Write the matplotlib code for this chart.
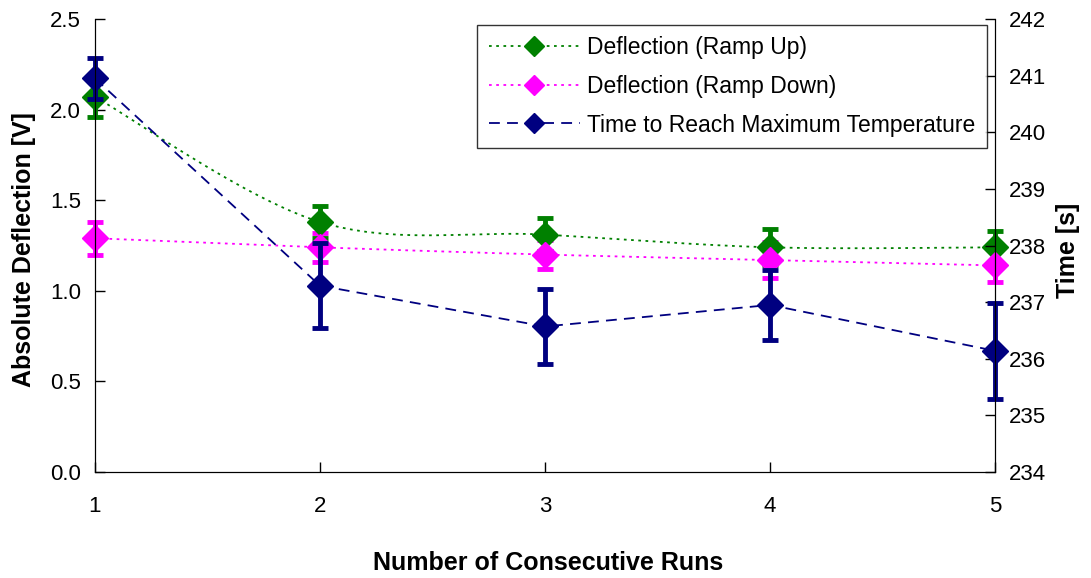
import matplotlib

matplotlib.use("Agg")

import matplotlib.pyplot as plt
import numpy as np

plt.rcParams["font.family"] = ["Liberation Sans", "DejaVu Sans"]

runs = [1, 2, 3, 4, 5]
ramp_up = [2.07, 1.38, 1.31, 1.24, 1.24]
ramp_up_err = [0.11, 0.09, 0.09, 0.10, 0.09]
ramp_down = [1.29, 1.24, 1.20, 1.17, 1.14]
ramp_down_err = [0.09, 0.08, 0.08, 0.10, 0.09]
time_max = [240.95, 237.29, 236.57, 236.95, 236.14]
time_max_err = [0.36, 0.75, 0.66, 0.62, 0.85]

x_ticks = [1, 2, 3, 4, 5]
left_ticks = [0.0, 0.5, 1.0, 1.5, 2.0, 2.5]
right_ticks = [234, 235, 236, 237, 238, 239, 240, 241, 242]


def smooth(x, y, n=40):
    # excel style smoothed line: bezier with catmull-rom control points
    x = np.asarray(x, float)
    y = np.asarray(y, float)
    pts = np.column_stack([x, y])
    padded = np.vstack([pts[0], pts, pts[-1]])
    out = []
    t = np.linspace(0, 1, n)[:, None]
    for i in range(len(pts) - 1):
        p0, p1, p2, p3 = padded[i], padded[i + 1], padded[i + 2], padded[i + 3]
        c1 = p1 + (p2 - p0) / 6
        c2 = p2 - (p3 - p1) / 6
        seg = ((1 - t) ** 3) * p1 + 3 * ((1 - t) ** 2) * t * c1 + 3 * (1 - t) * t ** 2 * c2 + t ** 3 * p2
        out.append(seg)
    out = np.vstack(out)
    return out[:, 0], out[:, 1]


fig = plt.figure(figsize=(10.91, 5.78), dpi=100)
ax = fig.add_axes([95 / 1091, 1 - 472 / 578, 900 / 1091, 453 / 578])
ax2 = ax.twinx()

green = "#008000"
magenta = "#ff00ff"
navy = "#000080"
dots = (0, (1.5, 2.5))
dashes = (0, (6, 4))
err_kw = dict(elinewidth=3.5, capsize=6, capthick=3.5, ls="none", marker="D", ms=13, clip_on=False)

sx, sy = smooth(runs, ramp_up)
ax.plot(sx, sy, color=green, ls=dots, lw=1.3)
ax.errorbar(runs, ramp_up, yerr=ramp_up_err, color=green, **err_kw)
sx, sy = smooth(runs, ramp_down)
ax.plot(sx, sy, color=magenta, ls=dots, lw=1.3)
ax.errorbar(runs, ramp_down, yerr=ramp_down_err, color=magenta, **err_kw)

ax2.plot(runs, time_max, color=navy, ls=dashes, lw=1.3)
ax2.errorbar(runs, time_max, yerr=time_max_err, color=navy, **err_kw)

ax.set_xlim(1, 5)
ax.set_ylim(0, 2.5)
ax2.set_ylim(234, 242)
ax.set_xticks(x_ticks)
ax.set_yticks(left_ticks)
ax.set_yticklabels([f"{v:.1f}" for v in left_ticks])
ax2.set_yticks(right_ticks)

for a in (ax, ax2):
    a.spines["top"].set_visible(False)
    a.tick_params(direction="in", length=7, width=1, labelsize=16)
ax.tick_params(axis="x", pad=17)
ax.tick_params(axis="y", pad=10)
ax2.tick_params(axis="y", pad=10)

fig.text(548 / 1091, 1 - 563 / 578, "Number of Consecutive Runs", fontsize=18,
         fontweight="bold", ha="center", va="center")
fig.text(24 / 1091, 1 - 250 / 578, "Absolute Deflection [V]", fontsize=18,
         fontweight="bold", ha="center", va="center", rotation=90)
fig.text(1068 / 1091, 1 - 250 / 578, "Time [s]", fontsize=18,
         fontweight="bold", ha="center", va="center", rotation=90)

handles = [
    plt.Line2D([], [], color=green, ls=dots, lw=1.3, marker="D", ms=10),
    plt.Line2D([], [], color=magenta, ls=dots, lw=1.3, marker="D", ms=10),
    plt.Line2D([], [], color=navy, ls=dashes, lw=1.3, marker="D", ms=10),
]
labels = ["Deflection (Ramp Up)", "Deflection (Ramp Down)", "Time to Reach Maximum Temperature"]
leg = ax2.legend(handles, labels, loc="upper right", bbox_to_anchor=(0.991, 0.987),
                 borderaxespad=0, fontsize=16.5, frameon=True, fancybox=False,
                 edgecolor="black", handlelength=4, handletextpad=0.3,
                 borderpad=0.5, labelspacing=0.68)
leg.get_frame().set_linewidth(1)
leg.set_zorder(10)

fig.savefig("out.png", dpi=100)
